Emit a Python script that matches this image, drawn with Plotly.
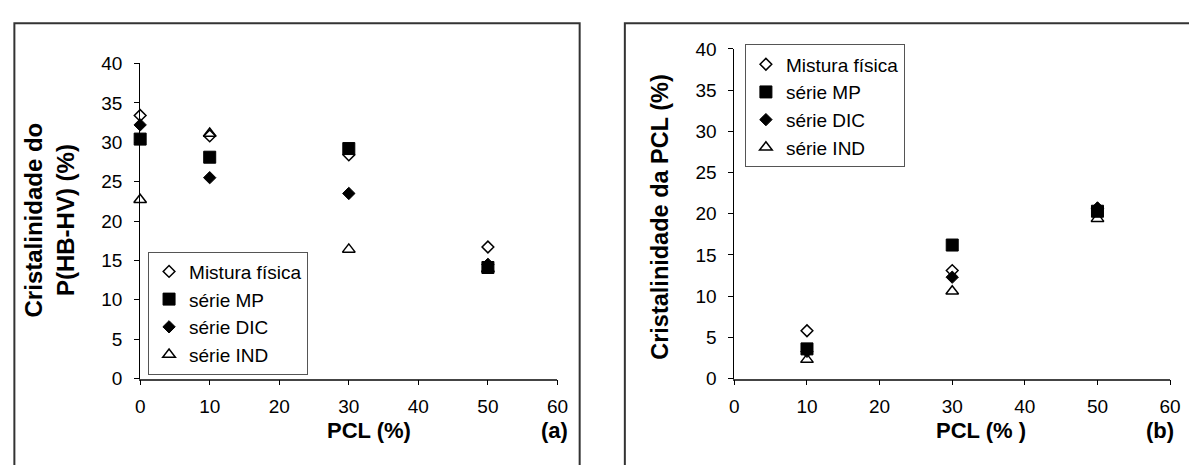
import plotly.graph_objects as go

# ---------------- data ----------------
pcl_a = [0, 10, 30, 50]
mistura_a = [33.4, 30.8, 28.4, 16.7]
mp_a = [30.4, 28.1, 29.2, 14.1]
dic_a = [32.2, 25.5, 23.5, 14.5]
ind_a = [22.7, 31.1, 16.4, 13.9]

pcl_b = [10, 30, 50]
mistura_b = [5.8, 13.1, 20.6]
mp_b = [3.6, 16.2, 20.3]
dic_b = [3.3, 12.3, 20.7]
ind_b = [2.3, 10.6, 19.4]

series_names = ["Mistura física", "série MP", "série DIC", "série IND"]
x_ticks = [0, 10, 20, 30, 40, 50, 60]
y_ticks = [0, 5, 10, 15, 20, 25, 30, 35, 40]

# ---------------- styles ----------------
FONT = "Liberation Sans, Arial, sans-serif"
W, H = 1189, 465
symbols = ["diamond-open", "square", "diamond", "triangle-up-open"]
sizes = [9, 12, 9.5, 11]
lwidths = [1.5, 1, 1, 1.5]


def px(x):
    return x / W


def py(y):
    return (H - y) / H


fig = go.Figure()

left_vals = [mistura_a, mp_a, dic_a, ind_a]
right_vals = [mistura_b, mp_b, dic_b, ind_b]

for i, (name, vals) in enumerate(zip(series_names, left_vals)):
    fig.add_trace(go.Scatter(
        x=pcl_a, y=vals, mode="markers", name=name,
        marker=dict(symbol=symbols[i], size=sizes[i], color="black",
                    line=dict(color="black", width=lwidths[i])),
        xaxis="x", yaxis="y", legend="legend", cliponaxis=False,
    ))

for i, (name, vals) in enumerate(zip(series_names, right_vals)):
    fig.add_trace(go.Scatter(
        x=pcl_b, y=vals, mode="markers", name=name,
        marker=dict(symbol=symbols[i], size=sizes[i], color="black",
                    line=dict(color="black", width=lwidths[i])),
        xaxis="x2", yaxis="y2", legend="legend2", cliponaxis=False,
    ))

axis_common = dict(
    range=[0, 60], tickvals=x_ticks, ticks="outside", ticklen=5,
    tickcolor="black", showline=True, linecolor="#444", linewidth=1.5,
    showgrid=False, zeroline=False, tickfont=dict(family=FONT, size=19, color="black"),
    ticklabelstandoff=5,
)
yaxis_common = dict(
    range=[0, 40], tickvals=y_ticks, ticks="outside", ticklen=5,
    tickcolor="black", showline=True, linecolor="black", linewidth=1,
    showgrid=False, zeroline=False, tickfont=dict(family=FONT, size=19, color="black"),
    ticklabelstandoff=8,
)

legend_common = dict(
    bgcolor="white", bordercolor="#555", borderwidth=1,
    font=dict(family=FONT, size=19, color="black"),
    xanchor="left", yanchor="top", itemclick=False,
)

fig.update_layout(
    width=W, height=H,
    margin=dict(l=0, r=0, t=0, b=0),
    paper_bgcolor="white", plot_bgcolor="white",
    xaxis=dict(domain=[px(137), px(560)], anchor="y", **axis_common),
    yaxis=dict(domain=[py(386), py(56)], anchor="x", **yaxis_common),
    xaxis2=dict(domain=[px(739.3), px(1181)], anchor="y2", **axis_common),
    yaxis2=dict(domain=[py(386), py(40.7)], anchor="x2", **yaxis_common),
    legend=dict(x=px(145), y=py(253), **legend_common),
    legend2=dict(x=px(750), y=py(36), **legend_common),
    showlegend=True,
)

# panel frames
frame = dict(type="rect", xref="paper", yref="paper",
             line=dict(color="#333", width=2), fillcolor="rgba(0,0,0,0)", layer="below")
fig.add_shape(x0=px(9.5), x1=px(582.5), y0=-0.2, y1=py(14), **frame)
fig.add_shape(x0=px(628.3), x1=1.2, y0=-0.2, y1=py(14), **frame)

bold = dict(family=FONT, size=22, color="black")
ann = []
ann.append(dict(text="<b>PCL (%)</b>", x=px(369), y=py(440), font=bold))
ann.append(dict(text="<b>(a)</b>", x=px(557.5), y=py(440), font=bold))
ann.append(dict(text="<b>PCL (% )</b>", x=px(989), y=py(440), font=bold))
ann.append(dict(text="<b>(b)</b>", x=px(1171), y=py(440), font=bold))
ann.append(dict(text="<b>Cristalinidade do<br>P(HB-HV) (%)</b>", x=px(45), y=py(220),
                textangle=-90, font=dict(family=FONT, size=24, color="black")))
ann.append(dict(text="<b>Cristalinidade da PCL (%)</b>", x=px(664), y=py(216.5),
                textangle=-90, font=dict(family=FONT, size=23.5, color="black")))
for a in ann:
    fig.add_annotation(xref="paper", yref="paper", showarrow=False,
                       xanchor="center", yanchor="middle", **a)

fig.write_html("out.html")
